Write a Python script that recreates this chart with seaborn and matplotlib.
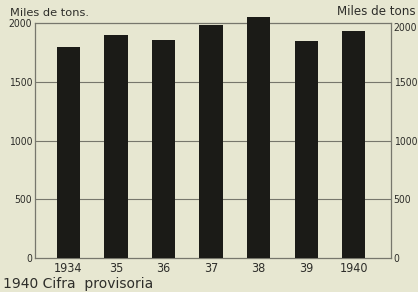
import pandas as pd
import matplotlib
matplotlib.use('Agg')
import matplotlib.pyplot as plt
import seaborn as sns

# Data (miles de toneladas)
years = ['1934', '35', '36', '37', '38', '39', '1940']
values = [1800, 1900, 1860, 1980, 2050, 1850, 1935]
yticks = [0, 500, 1000, 1500, 2000]

bg = '#e7e7d1'
ink = '#2e2e2a'
line_col = '#77776c'

sns.set_style('white')
plt.rcParams['font.family'] = ['DejaVu Sans']
plt.rcParams['font.stretch'] = 'condensed'

df = pd.DataFrame({'year': years, 'value': values})

fig = plt.figure(figsize=(4.18, 2.92), dpi=100, facecolor=bg)
ax = fig.add_axes([0.084, 0.116, 0.851, 0.805])
ax.set_facecolor(bg)

sns.barplot(data=df, x='year', y='value', color='#1b1b17', width=0.49,
            saturation=1, linewidth=0, edgecolor='none', ax=ax, zorder=3)
for p in ax.patches:
    p.set_clip_on(False)

ax.set_xlim(-0.7, 6.78)
ax.set_ylim(0, 2000)
ax.set_yticks(yticks)
ax.set_yticklabels([str(v) for v in yticks], fontsize=7.5, color=ink)
ax.tick_params(axis='y', length=0, pad=2, labelright=True)
ax.tick_params(axis='x', length=0, pad=3, labelsize=9, labelcolor=ink)
ax.set_xlabel('')
ax.set_ylabel('')
# the top labels sit a little below the frame line
for lab in [ax.get_yticklabels()[-1]]:
    lab.set_va('top')

for y in yticks[1:-1]:
    ax.axhline(y, color=line_col, lw=0.8, zorder=1)
for s in ax.spines.values():
    s.set_color(line_col)
    s.set_linewidth(0.9)

fig.text(0.024, 0.955, 'Miles de tons.', fontsize=8.2, color=ink,
         ha='left', va='center', fontstretch='normal')
fig.text(0.995, 0.962, 'Miles de tons', fontsize=8.6, color=ink,
         ha='right', va='center', fontstretch='normal')
fig.text(0.008, 0.028, '1940 Cifra  provisoria', fontsize=10, color=ink,
         ha='left', va='center', fontstretch='normal')

fig.savefig('out.png', dpi=100, facecolor=bg)
